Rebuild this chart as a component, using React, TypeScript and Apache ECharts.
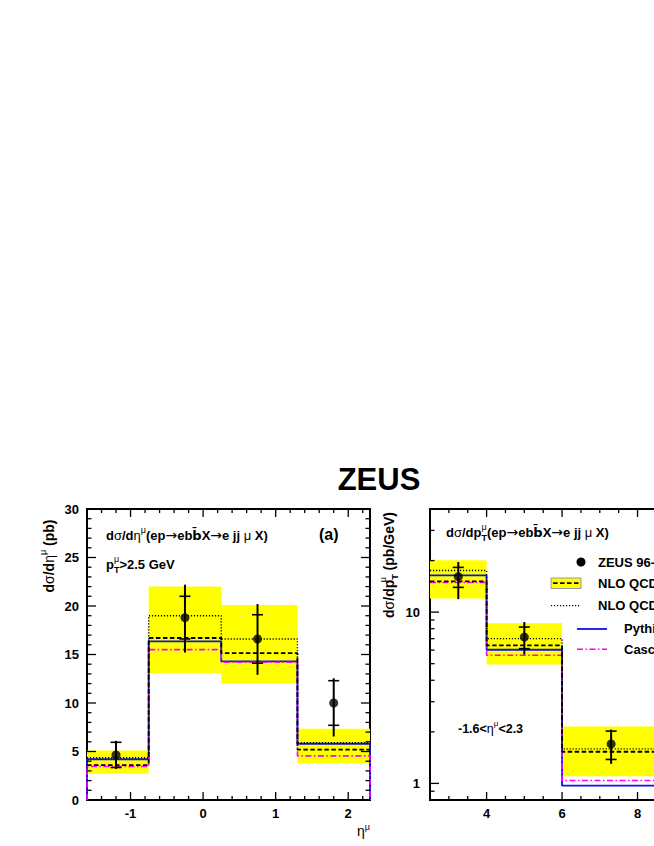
import React, { useEffect, useRef } from 'react';
import * as echarts from 'echarts';

// ---------- Panel (a): dσ/dη^μ ----------
const etaEdges = [-1.6, -0.75, 0.25, 1.3, 2.3];
const etaPointX = [-1.2, -0.25, 0.75, 1.8];
const etaData = [4.65, 18.8, 16.6, 10.0];
const etaStatErr = [1.3, 2.2, 2.5, 2.3];
const etaTotErrUp = [1.45, 3.4, 3.6, 2.55];
const etaTotErrDown = [1.45, 3.6, 3.7, 3.45];
const etaBandLow = [2.7, 13.1, 12.0, 3.8];
const etaBandHigh = [5.1, 22.0, 20.1, 7.35];
const etaNloHad = [3.6, 16.7, 15.15, 5.2];
const etaNlo = [4.35, 19.0, 16.6, 5.9];
const etaPythia = [4.2, 16.35, 14.3, 5.8];
const etaCascade = [3.45, 15.5, 14.2, 4.55];

const etaXLabels = [-1, 0, 1, 2];
const etaXMajorTicks = [-1, 0, 1, 2];
const etaXMinorTicks = [-1.4, -1.2, -0.8, -0.6, -0.4, -0.2, 0.2, 0.4, 0.6, 0.8, 1.2, 1.4, 1.6, 1.8, 2.2];
const etaYLabels = [0, 5, 10, 15, 20, 25, 30];
const etaYMajorTicks = [5, 10, 15, 20, 25];
const etaYMinorTicks = [1, 2, 3, 4, 6, 7, 8, 9, 11, 12, 13, 14, 16, 17, 18, 19, 21, 22, 23, 24, 26, 27, 28, 29];

// ---------- Panel (b): dσ/dp_T^μ ----------
const ptEdges = [2.5, 4, 6, 10];
const ptPointX = [3.25, 5.0, 7.3];
const ptData = [16.1, 7.15, 1.7];
const ptStatErr = [2.15, 1.03, 0.32];
const ptTotErrUp = [3.5, 1.6, 0.36];
const ptTotErrDown = [4.2, 1.5, 0.4];
const ptBandLow = [12.0, 4.95, 1.1];
const ptBandHigh = [20.1, 8.6, 2.15];
const ptNloHad = [15.1, 6.4, 1.53];
const ptNlo = [17.5, 7.0, 1.59];
const ptPythia = [16.4, 6.03, 0.97];
const ptCascade = [14.9, 5.6, 1.04];

const ptXLabels = [4, 6, 8];
const ptXMajorTicks = [4, 6, 8];
const ptXMinorTicks = [3, 3.5, 4.5, 5, 5.5, 6.5, 7, 7.5, 8.5, 9, 9.5];
const ptYLabels = [1, 10];
const ptYMajorTicks = [1, 10];
const ptYMinorTicks = [0.9, 2, 3, 4, 5, 6, 7, 8, 9, 20, 30];

const legendLabels = ['ZEUS 96-00', 'NLO QCD', 'NLO QCD', 'Pythia', 'Cascade'];

const FONT = '"Liberation Sans", Arial, Helvetica, sans-serif';
const SYM = '"DejaVu Sans", sans-serif';
const BLUE = '#1010ee';
const MAGENTA = '#ff00ff';
const YELLOW = '#ffff00';

const ETA_X = [-1.6, 2.3];
const ETA_Y = [0, 30];
const PT_X = [2.5, 10];
const PT_Y = [0.8, 40];

const styles = {
  dashed: { color: '#000', width: 1.8, type: [4.5, 2.5] },
  dotted: { color: '#000', width: 1.4, type: [1.2, 1.8] },
  pythia: { color: BLUE, width: 1.8, type: 'solid' },
  cascade: { color: MAGENTA, width: 1.6, type: [6, 2.5, 1.5, 2.5] },
};

function stepPoints(edges: number[], vals: number[], base: number | null) {
  const pts: number[][] = [];
  if (base !== null) pts.push([edges[0], base]);
  for (let i = 0; i < vals.length; i++) pts.push([edges[i], vals[i]]);
  pts.push([edges[edges.length - 1], vals[vals.length - 1]]);
  if (base !== null) pts.push([edges[edges.length - 1], base]);
  return pts;
}

function stepSeries(idx: number, edges: number[], vals: number[], base: number | null, ls: any, z: number) {
  return {
    type: 'line',
    xAxisIndex: idx,
    yAxisIndex: idx,
    data: stepPoints(edges, vals, base),
    step: 'end',
    symbol: 'none',
    showSymbol: false,
    lineStyle: ls,
    z,
    silent: true,
  };
}

function bandSeries(idx: number, edges: number[], lo: number[], hi: number[]) {
  return {
    type: 'custom',
    xAxisIndex: idx,
    yAxisIndex: idx,
    z: 1,
    silent: true,
    clip: false,
    data: lo.map((l, i) => [edges[i], edges[i + 1], l, hi[i]]),
    encode: { x: [0, 1], y: [2, 3] },
    renderItem: (params: any, api: any) => {
      const p1 = api.coord([api.value(0), api.value(3)]);
      const p2 = api.coord([api.value(1), api.value(2)]);
      return {
        type: 'rect',
        shape: { x: p1[0], y: p1[1], width: p2[0] - p1[0], height: p2[1] - p1[1] },
        style: { fill: YELLOW },
      };
    },
  };
}

function errorSeries(idx: number, xs: number[], ys: number[], stat: number[], up: number[], dn: number[]) {
  return {
    type: 'custom',
    xAxisIndex: idx,
    yAxisIndex: idx,
    z: 8,
    silent: true,
    data: xs.map((x, i) => [x, ys[i], stat[i], up[i], dn[i]]),
    encode: { x: 0, y: 1 },
    renderItem: (params: any, api: any) => {
      const x = api.value(0);
      const y = api.value(1);
      const s = api.value(2);
      const top = api.coord([x, y + api.value(3)]);
      const bot = api.coord([x, y - api.value(4)]);
      const st = api.coord([x, y + s]);
      const sb = api.coord([x, y - s]);
      const w = 5.5;
      const ls = { stroke: '#000', lineWidth: 1.6 };
      return {
        type: 'group',
        children: [
          { type: 'line', shape: { x1: top[0], y1: top[1], x2: bot[0], y2: bot[1] }, style: { stroke: '#000', lineWidth: 2 } },
          { type: 'line', shape: { x1: st[0] - w, y1: st[1], x2: st[0] + w, y2: st[1] }, style: ls },
          { type: 'line', shape: { x1: sb[0] - w, y1: sb[1], x2: sb[0] + w, y2: sb[1] }, style: ls },
        ],
      };
    },
  };
}

function pointSeries(idx: number, xs: number[], ys: number[]) {
  return {
    type: 'scatter',
    xAxisIndex: idx,
    yAxisIndex: idx,
    z: 9,
    silent: true,
    symbol: 'circle',
    symbolSize: 9,
    itemStyle: { color: '#000' },
    data: xs.map((x, i) => [x, ys[i]]),
  };
}

// tick marks on all four sides, pointing inward
function tickSeries(idx: number, dir: 'x' | 'y', major: number[], minor: number[], xr: number[], yr: number[]) {
  const data = major.map((v) => [v, 1]).concat(minor.map((v) => [v, 0]));
  return {
    type: 'custom',
    xAxisIndex: idx,
    yAxisIndex: idx,
    z: 10,
    silent: true,
    clip: false,
    data: data.map((d) => (dir === 'x' ? [d[0], yr[0], d[1]] : [xr[0], d[0], d[1]])),
    encode: { x: 0, y: 1 },
    renderItem: (params: any, api: any) => {
      const isMajor = api.value(2) === 1;
      const style = { stroke: '#000', lineWidth: 1.3 };
      if (dir === 'x') {
        const v = api.value(0);
        const len = isMajor ? 8 : 4;
        const a = api.coord([v, yr[0]]);
        const b = api.coord([v, yr[1]]);
        return {
          type: 'group',
          children: [
            { type: 'line', shape: { x1: a[0], y1: a[1], x2: a[0], y2: a[1] - len }, style },
            { type: 'line', shape: { x1: b[0], y1: b[1], x2: b[0], y2: b[1] + len }, style },
          ],
        };
      }
      const v = api.value(1);
      const len = isMajor ? 9 : 4.5;
      const a = api.coord([xr[0], v]);
      const b = api.coord([xr[1], v]);
      return {
        type: 'group',
        children: [
          { type: 'line', shape: { x1: a[0], y1: a[1], x2: a[0] + len, y2: a[1] }, style },
          { type: 'line', shape: { x1: b[0], y1: b[1], x2: b[0] - len, y2: b[1] }, style },
        ],
      };
    },
  };
}

function labelFormatter(labels: number[]) {
  return (v: number) => {
    for (const l of labels) if (Math.abs(v - l) < 1e-6 * Math.max(1, Math.abs(l))) return String(l);
    return '';
  };
}

const tickLabelStyle = { fontSize: 13, fontWeight: 'bold', color: '#000', fontFamily: FONT };

function makeRich(size: number) {
  const lh = size + 7;
  const small = Math.round(size * 0.66);
  const slh = Math.round(size * 0.75);
  return {
    b: { fontSize: size, fontWeight: 'bold', fontFamily: FONT, fill: '#000', lineHeight: lh, verticalAlign: 'middle' },
    g: { fontSize: size, fontFamily: FONT, fill: '#000', lineHeight: lh, verticalAlign: 'middle' },
    ar: { fontSize: size + 1, fontFamily: SYM, fill: '#000', lineHeight: lh, verticalAlign: 'middle' },
    bb: { fontSize: size, fontWeight: 'bold', fontFamily: SYM, fill: '#000', lineHeight: lh, verticalAlign: 'middle' },
    sup: { fontSize: small, fontFamily: FONT, fill: '#000', lineHeight: slh, verticalAlign: 'top' },
    supz: { fontSize: small, fontFamily: FONT, fill: '#000', lineHeight: slh, verticalAlign: 'top', width: 0 },
    sub: { fontSize: small, fontWeight: 'bold', fontFamily: FONT, fill: '#000', lineHeight: slh, verticalAlign: 'bottom' },
  };
}

function richText(x: number, y: number, text: string, size: number, align = 'left', rotation = 0) {
  return {
    type: 'text',
    x,
    y,
    z: 20,
    silent: true,
    rotation,
    style: {
      text,
      rich: makeRich(size),
      fill: '#000',
      font: `bold ${size}px ${FONT}`,
      align,
      textAlign: align,
      verticalAlign: 'middle',
      textVerticalAlign: 'middle',
    },
  };
}

const PROCESS = '{b|(ep}{ar|→}{b|eb}{bb|b\u0304}{b|X}{ar|→}{b|e jj }{g|μ}{b| X)}';

function buildGraphic() {
  const g: any[] = [];
  // Title
  g.push({
    type: 'text',
    x: 379,
    y: 479,
    silent: true,
    style: {
      text: 'ZEUS',
      font: `bold 31px ${FONT}`,
      fill: '#000',
      align: 'center',
      textAlign: 'center',
      verticalAlign: 'middle',
      textVerticalAlign: 'middle',
    },
  });
  // Axis titles
  g.push(richText(49, 556, '{b|d}{g|σ}{b|/d}{g|η}{sup|μ}{b| (pb)}', 14, 'center', Math.PI / 2));
  g.push(richText(389, 565, '{b|d}{g|σ}{b|/dp}{supz|μ}{sub|T}{b| (pb/GeV)}', 14, 'center', Math.PI / 2));
  g.push({
    type: 'text',
    x: 370,
    y: 831,
    silent: true,
    style: {
      text: '{g|η}{sup|μ}',
      rich: {
        g: { fontSize: 14, fontFamily: FONT, fill: '#000', lineHeight: 18, verticalAlign: 'middle' },
        sup: { fontSize: 9, fontFamily: FONT, fill: '#000', lineHeight: 10, verticalAlign: 'top' },
      },
      align: 'right',
      textAlign: 'right',
      verticalAlign: 'middle',
      textVerticalAlign: 'middle',
    },
  });
  // In-plot texts
  g.push(richText(106, 535, '{b|d}{g|σ}{b|/d}{g|η}{sup|μ}' + PROCESS, 13));
  g.push(richText(106, 564, '{b|p}{supz|μ}{sub|T}{b|>2.5 GeV}', 13));
  g.push(richText(319, 534, '{b|(a)}', 16));
  g.push(richText(446, 532, '{b|d}{g|σ}{b|/dp}{supz|μ}{sub|T}' + PROCESS, 13));
  g.push(richText(458, 729, '{b|-1.6<}{g|η}{sup|μ}{b|<2.3}', 12.5));
  // Legend
  const lx1 = 551;
  const lx2 = 581;
  const tx1 = 598;
  g.push({ type: 'circle', silent: true, shape: { cx: 581, cy: 562, r: 4.5 }, style: { fill: '#000' } });
  g.push(richText(tx1, 562, `{b|${legendLabels[0]}}`, 13));
  g.push({ type: 'rect', silent: true, shape: { x: lx1, y: 578, width: lx2 - lx1, height: 10.5 }, style: { fill: YELLOW, stroke: '#999', lineWidth: 1 } });
  g.push({ type: 'line', silent: true, shape: { x1: lx1 + 2, y1: 583.2, x2: lx2 - 2, y2: 583.2 }, style: { stroke: '#000', lineWidth: 1.8, lineDash: [4.5, 2.5] } });
  g.push(richText(tx1, 583, `{b|${legendLabels[1]}}`, 13));
  g.push({ type: 'line', silent: true, shape: { x1: lx1, y1: 605.7, x2: lx2, y2: 605.7 }, style: { stroke: '#000', lineWidth: 1.3, lineDash: [1.2, 1.8] } });
  g.push(richText(tx1, 605, `{b|${legendLabels[2]}}`, 13));
  g.push({ type: 'line', silent: true, shape: { x1: 577, y1: 629, x2: 607, y2: 629 }, style: { stroke: BLUE, lineWidth: 1.8 } });
  g.push(richText(624, 628, `{b|${legendLabels[3]}}`, 13));
  g.push({ type: 'line', silent: true, shape: { x1: 577, y1: 649.3, x2: 607, y2: 649.3 }, style: { stroke: MAGENTA, lineWidth: 1.6, lineDash: [6, 2.5, 1.5, 2.5] } });
  g.push(richText(624, 649, `{b|${legendLabels[4]}}`, 13));
  return g;
}

function buildOption() {
  const axisCommon = {
    axisLine: { show: false },
    axisTick: { show: false },
    splitLine: { show: false },
  };
  return {
    animation: false,
    backgroundColor: '#fff',
    grid: [
      { left: 87, top: 509, width: 283, height: 291, show: true, borderColor: '#000', borderWidth: 2, backgroundColor: 'transparent' },
      { left: 430, top: 509, width: 283, height: 291, show: true, borderColor: '#000', borderWidth: 2, backgroundColor: 'transparent' },
    ],
    xAxis: [
      {
        gridIndex: 0, type: 'value', min: ETA_X[0], max: ETA_X[1], splitNumber: 4, ...axisCommon,
        axisLabel: { ...tickLabelStyle, margin: 7, customValues: etaXLabels, formatter: labelFormatter(etaXLabels) },
      },
      {
        gridIndex: 1, type: 'value', min: PT_X[0], max: PT_X[1], splitNumber: 4, ...axisCommon,
        axisLabel: { ...tickLabelStyle, margin: 7, customValues: ptXLabels, formatter: labelFormatter(ptXLabels) },
      },
    ],
    yAxis: [
      {
        gridIndex: 0, type: 'value', min: ETA_Y[0], max: ETA_Y[1], interval: 5, ...axisCommon,
        axisLabel: { ...tickLabelStyle, margin: 8, customValues: etaYLabels, formatter: labelFormatter(etaYLabels) },
      },
      {
        gridIndex: 1, type: 'log', logBase: 10, min: PT_Y[0], max: PT_Y[1], ...axisCommon,
        axisLabel: { ...tickLabelStyle, margin: 10, customValues: ptYLabels, formatter: labelFormatter(ptYLabels) },
      },
    ],
    series: [
      bandSeries(0, etaEdges, etaBandLow, etaBandHigh),
      stepSeries(0, etaEdges, etaPythia, 0, styles.pythia, 3),
      stepSeries(0, etaEdges, etaCascade, 0, styles.cascade, 4),
      stepSeries(0, etaEdges, etaNloHad, null, styles.dashed, 5),
      stepSeries(0, etaEdges, etaNlo, null, styles.dotted, 5),
      errorSeries(0, etaPointX, etaData, etaStatErr, etaTotErrUp, etaTotErrDown),
      pointSeries(0, etaPointX, etaData),
      tickSeries(0, 'x', etaXMajorTicks, etaXMinorTicks, ETA_X, ETA_Y),
      tickSeries(0, 'y', etaYMajorTicks, etaYMinorTicks, ETA_X, ETA_Y),

      bandSeries(1, ptEdges, ptBandLow, ptBandHigh),
      stepSeries(1, ptEdges, ptPythia, null, styles.pythia, 3),
      stepSeries(1, ptEdges, ptCascade, null, styles.cascade, 4),
      stepSeries(1, ptEdges, ptNloHad, null, styles.dashed, 5),
      stepSeries(1, ptEdges, ptNlo, null, styles.dotted, 5),
      errorSeries(1, ptPointX, ptData, ptStatErr, ptTotErrUp, ptTotErrDown),
      pointSeries(1, ptPointX, ptData),
      tickSeries(1, 'x', ptXMajorTicks, ptXMinorTicks, PT_X, PT_Y),
      tickSeries(1, 'y', ptYMajorTicks, ptYMinorTicks, PT_X, PT_Y),
    ],
    graphic: buildGraphic(),
  };
}

export default function App() {
  const ref = useRef<HTMLDivElement | null>(null);
  useEffect(() => {
    if (!ref.current) return;
    const chart = echarts.init(ref.current, null, { renderer: 'svg' });
    chart.setOption(buildOption() as any);
    return () => chart.dispose();
  }, []);
  return (
    <div style={{ position: 'fixed', left: 0, top: 0, width: 654, height: 846, overflow: 'hidden', background: '#fff' }}>
      <div ref={ref} style={{ width: 730, height: 846 }} />
    </div>
  );
}
